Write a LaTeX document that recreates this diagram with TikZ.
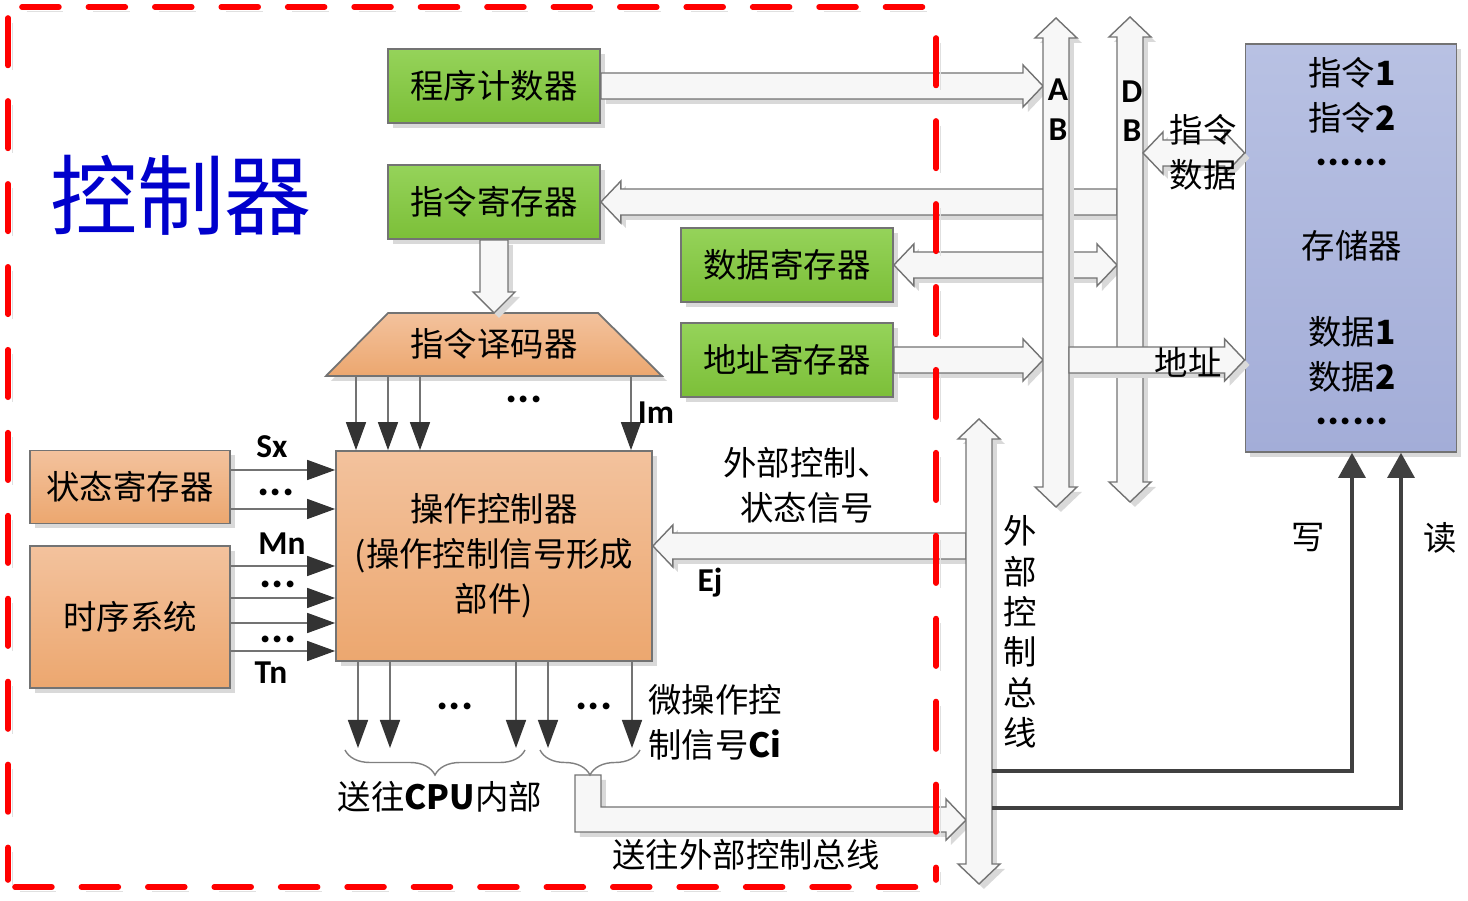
\documentclass[tikz,border=0pt]{standalone}
\usepackage{fontspec}
\setmainfont{Carlito}
\newfontfamily\cjk{Noto Sans CJK SC}
\usetikzlibrary{arrows.meta,calc,shadows,decorations.pathreplacing}

\definecolor{gtop}{HTML}{95D35A}
\definecolor{gbot}{HTML}{7CBF38}
\definecolor{otop}{HTML}{F3C29D}
\definecolor{obot}{HTML}{ECA76F}
\definecolor{mtop}{HTML}{B8C1E3}
\definecolor{mbot}{HTML}{A3ADD8}
\definecolor{titleblue}{HTML}{0000CC}

\newcommand{\txt}{\cjk\fontsize{9.5pt}{12.8pt}\selectfont}
\newcommand{\sym}{\fontsize{9.5pt}{12pt}\selectfont\bfseries}
\newcommand{\dotsym}{\fontsize{13pt}{14pt}\selectfont\bfseries}

\tikzset{
  shd/.style={drop shadow={shadow xshift=1.4pt,shadow yshift=-1.4pt,fill=black!15,opacity=1}},
  box/.style={draw=black!55,line width=0.5pt,align=center,font=\txt,shd},
  reg/.style={box,top color=gtop,bottom color=gbot,minimum width=21.2mm,minimum height=7.4mm},
  unit/.style={box,top color=otop,bottom color=obot},
  blk/.style={draw=black!55,line width=0.4pt,fill=black!3,shd},
  sig/.style={draw=black!55,line width=0.45pt,-{Triangle[length=2.8mm,width=2mm,color=black!80]}},
  rw/.style={draw=black!75,line width=0.9pt,-{Triangle[length=2.5mm,width=2.7mm]}},
  lbl/.style={font=\txt,align=center},
  dts/.style={font=\dotsym,inner sep=0pt},
  brc/.style={draw=black!50,line width=0.4pt,decorate,decoration={brace,amplitude=2.5mm}},
  frame/.style={red,line width=1.6pt,line cap=round,dash pattern=#1,
    preaction={draw=black!12,dash pattern=#1,transform canvas={shift={(1.3pt,-1.3pt)}}}}
}

% hollow block arrows: right, left, double horizontal, double vertical, down
\newcommand{\rblock}[2]{\draw[blk] ($#1+(0,-13)$) -- ($#2+(-20,-13)$) -- ($#2+(-20,-21)$) -- #2 -- ($#2+(-20,21)$) -- ($#2+(-20,13)$) -- ($#1+(0,13)$) -- cycle;}
\newcommand{\lblock}[2]{\draw[blk] ($#1+(0,-13)$) -- ($#2+(20,-13)$) -- ($#2+(20,-21)$) -- #2 -- ($#2+(20,21)$) -- ($#2+(20,13)$) -- ($#1+(0,13)$) -- cycle;}
\newcommand{\hdblock}[2]{\draw[blk] #1 -- ($#1+(20,-21)$) -- ($#1+(20,-13)$) -- ($#2+(-20,-13)$) -- ($#2+(-20,-21)$) -- #2 -- ($#2+(-20,21)$) -- ($#2+(-20,13)$) -- ($#1+(20,13)$) -- ($#1+(20,21)$) -- cycle;}
\newcommand{\vdblock}[2]{\draw[blk] #1 -- ($#1+(21,20)$) -- ($#1+(13,20)$) -- ($#2+(13,-20)$) -- ($#2+(21,-20)$) -- #2 -- ($#2+(-21,-20)$) -- ($#2+(-13,-20)$) -- ($#1+(-13,20)$) -- ($#1+(-21,20)$) -- cycle;}
\newcommand{\dblock}[2]{\draw[blk] ($#1+(-14,0)$) -- ($#1+(14,0)$) -- ($#2+(14,-21)$) -- ($#2+(21,-21)$) -- #2 -- ($#2+(-21,-21)$) -- ($#2+(-14,-21)$) -- cycle;}

\begin{document}
\begin{tikzpicture}[x=0.1mm,y=-0.1mm]
\useasboundingbox (0,0) rectangle (1468,901);

\node[font=\cjk\fontsize{24.8pt}{28pt}\selectfont,text=titleblue] (title) at (181,195) {控制器};

\node[reg] (pc) at (494,86) {程序计数器};
\node[reg] (ir) at (494,202) {指令寄存器};
\node[reg] (dr) at (787,265) {数据寄存器};
\node[reg] (ar) at (787,360) {地址寄存器};
\node[unit,minimum width=20mm,minimum height=7.3mm] (sr) at (130,487) {状态寄存器};
\node[unit,minimum width=20mm,minimum height=14.2mm] (ts) at (130,617) {时序系统};
\node[unit,minimum width=31.6mm,minimum height=21mm] (op) at (494,556) {操作控制器\\(操作控制信号形成\\部件)};
\draw[unit] (388,313) -- (598,313) -- (662,376) -- (326,376) -- cycle;
\node[lbl] (dec) at (494,344) {指令译码器};
\coordinate (decs) at (494,376);
\node[draw=black!55,line width=0.5pt,top color=mtop,bottom color=mbot,shd,minimum width=21.1mm,minimum height=40.8mm] (mem) at (1351,248) {};

% bus edges
\coordinate (abL) at (1043,0); \coordinate (abR) at (1069,0);
\coordinate (dbL) at (1117,0); \coordinate (dbR) at (1143,0);
\coordinate (cbL) at (966,0);  \coordinate (cbR) at (992,0);
\coordinate (ej) at (op.east |- 0,546);
\coordinate (dbm) at (1143,153);

\rblock{(pc.east)}{(pc.east -| abL)}
\lblock{(ir.east -| dbL)}{(ir.east)}
\hdblock{(dr.east)}{(dr.east -| dbL)}
\rblock{(ar.east)}{(ar.east -| abL)}
\lblock{(ej -| cbL)}{(ej)}
\dblock{(ir.south)}{(decs |- 0,313)}
\draw[blk] (575,775) -- (601,775) -- (601,807) -- (946,807) -- (946,799) -- (cbL |- 0,820) -- (946,840) -- (946,832) -- (575,832) -- cycle;

\vdblock{(1056,18)}{(1056,507)}
\vdblock{(1130,17)}{(1130,502)}
\vdblock{(979,419)}{(979,884)}
\rblock{(ar.east -| abR)}{(ar.east -| mem.west)}
\hdblock{(dbm)}{(dbm -| mem.west)}

\foreach \x in {356,388,420,631} \draw[sig] (decs -| \x,0) -- (op.north -| \x,0);
\foreach \y in {470,509} \draw[sig] (sr.east |- 0,\y) -- (op.west |- 0,\y);
\foreach \y in {566,598,623,651} \draw[sig] (ts.east |- 0,\y) -- (op.west |- 0,\y);
\foreach \x in {358,390,516,548,632} \draw[sig] (op.south -| \x,0) -- (\x,748);
\draw[brc] (525,750) -- (345,750);
\draw[brc] (640,750) -- (540,750);

\draw[rw] (cbR |- 0,771) -| (mem.south -| 1352,0);
\draw[rw] (cbR |- 0,808) -| (mem.south -| 1401,0);

\node[font=\sym] (sx) at (272,447) {Sx};
\node[dts] (d1) at (276,492) {...};
\node[font=\sym] (mn) at (282,544) {Mn};
\node[dts] (d2) at (278,584) {...};
\node[dts] (d3) at (278,639) {...};
\node[font=\sym] (tn) at (271,673) {Tn};
\node[dts] (d4) at (524,399) {...};
\node[font=\sym] (im) at (656,413) {Im};
\node[dts] (d5) at (455,706) {...};
\node[dts] (d6) at (594,706) {...};
\node[font=\sym] (ejl) at (710,583) {Ej};
\node[font=\sym] (a1) at (1058,90) {A};
\node[font=\sym] (a2) at (1058,130) {B};
\node[font=\sym] (b1) at (1132,92) {D};
\node[font=\sym] (b2) at (1132,131) {B};

\node[lbl] (cpu) at (440,797) {送往{\sym CPU}内部};
\node[lbl] (ci) at (715,722) {微操作控\\制信号{\sym Ci}};
\node[lbl] (ext) at (807,485) {外部控制、\\状态信号};
\node[lbl] (tobus) at (746,855) {送往外部控制总线};
\node[lbl,font=\cjk\fontsize{9.5pt}{11.5pt}\selectfont] (cbus) at (1020,632) {外\\部\\控\\制\\总\\线};
\node[lbl] (ins) at (1203,130) {指令};
\node[lbl] (dat) at (1203,175) {数据};
\node[lbl] (adr) at (1188,362) {地址};
\node[lbl] (wr) at (1308,538) {写};
\node[lbl] (rd) at (1440,538) {读};

\node[lbl] (m1) at (1352,73) {指令{\sym 1}};
\node[lbl] (m2) at (1352,118) {指令{\sym 2}};
\node[dts] (m3) at (1352,162) {......};
\node[lbl] (m4) at (1352,246) {存储器};
\node[lbl] (m5) at (1352,332) {数据{\sym 1}};
\node[lbl] (m6) at (1352,377) {数据{\sym 2}};
\node[dts] (m7) at (1352,421) {......};

\draw[frame={on 10.5pt off 8.4pt}] (22,7) -- (940,7);
\draw[frame={on 10.5pt off 8.4pt}] (15,887) -- (930,887);
\draw[frame={on 13.5pt off 10.1pt}] (8,18) -- (8,880);
\draw[frame={on 13.5pt off 10.1pt}] (936,38) -- (936,880);
\end{tikzpicture}
\end{document}
